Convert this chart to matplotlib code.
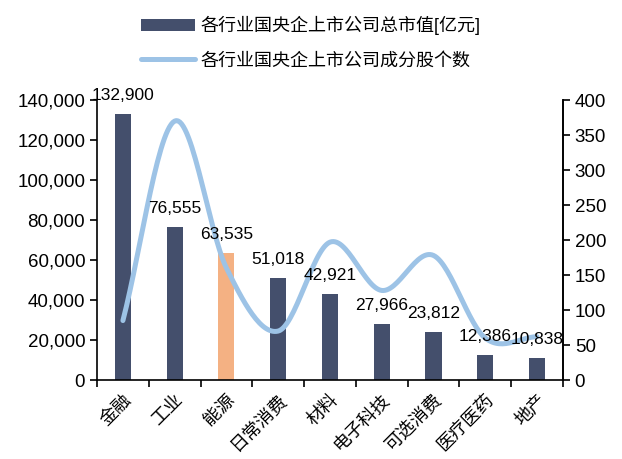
import numpy as np
import matplotlib
matplotlib.use("Agg")
import matplotlib.pyplot as plt
from matplotlib.ticker import FuncFormatter

plt.rcParams['font.family'] = ['Liberation Sans', 'Noto Sans CJK SC', 'DejaVu Sans']

categories = ['金融', '工业', '能源', '日常消费', '材料', '电子科技', '可选消费', '医疗医药', '地产']
market_cap = [132900, 76555, 63535, 51018, 42921, 27966, 23812, 12386, 10838]
n_stocks = [85, 370, 160, 70, 197, 128, 178, 60, 62]
bar_label = '各行业国央企上市公司总市值[亿元]'
line_label = '各行业国央企上市公司成分股个数'

navy = '#444F6C'
orange = '#F4B183'
light_blue = '#9DC3E6'


def smooth(x, y, steps=30):
    # catmull-rom style smoothing, like Excel's smoothed line
    x = np.asarray(x, float)
    y = np.asarray(y, float)
    px = np.concatenate([[2 * x[0] - x[1]], x, [2 * x[-1] - x[-2]]])
    py = np.concatenate([[2 * y[0] - y[1]], y, [2 * y[-1] - y[-2]]])
    xs, ys = [], []
    for i in range(1, len(px) - 2):
        t = np.linspace(0, 1, steps, endpoint=False)
        for p, out in ((px, xs), (py, ys)):
            p0, p1, p2, p3 = p[i - 1], p[i], p[i + 1], p[i + 2]
            out.extend(0.5 * (2 * p1 + (-p0 + p2) * t
                              + (2 * p0 - 5 * p1 + 4 * p2 - p3) * t ** 2
                              + (-p0 + 3 * p1 - 3 * p2 + p3) * t ** 3))
    xs.append(x[-1])
    ys.append(y[-1])
    return np.array(xs), np.array(ys)


fig = plt.figure(figsize=(6.22, 4.59), dpi=100)
ax = fig.add_axes([0.156, 0.172, 0.749, 0.61])
ax2 = ax.twinx()

pos = np.arange(len(categories))
colors = [navy] * len(categories)
colors[2] = orange
bars = ax.bar(pos, market_cap, width=0.31, color=colors, label=bar_label, zorder=2)

sx, sy = smooth(pos, n_stocks)
line, = ax2.plot(sx, sy, color=light_blue, lw=3.6, solid_capstyle='round', label=line_label)

# value labels go on ax2 so they sit above the line
for p, v in zip(pos, market_cap):
    ax2.text(p, v + 5500, f'{v:,}', ha='center', va='bottom', fontsize=12.5,
             transform=ax.transData, zorder=5, clip_on=False)

ax.set_xlim(-0.5, len(categories) - 0.5)
ax.set_ylim(0, 140000)
ax.set_yticks(np.arange(0, 140001, 20000))
ax.yaxis.set_major_formatter(FuncFormatter(lambda v, _: f'{int(v):,}'))
ax2.set_ylim(0, 400)
ax2.set_yticks(np.arange(0, 401, 50))

ax.set_xticks(pos)
ax.set_xticklabels(categories, rotation=45, ha='right', rotation_mode='anchor', fontsize=13)
ax.set_xticks(np.arange(-0.5, len(categories)), minor=True)
ax.tick_params(axis='x', which='major', length=0, pad=8)
ax.tick_params(axis='x', which='minor', length=5, width=1.2, direction='out')
ax.tick_params(axis='y', labelsize=13.5, length=5, width=1.2)
ax2.tick_params(axis='y', labelsize=13.5, length=5, width=1.2)

for a in (ax, ax2):
    a.spines['top'].set_visible(False)
    for s in ('left', 'right', 'bottom'):
        a.spines[s].set_linewidth(1.2)
ax2.spines['left'].set_visible(False)
ax2.spines['bottom'].set_visible(False)

fig.legend([bars, line], [bar_label, line_label], loc='upper center',
           bbox_to_anchor=(0.5, 1.0), ncol=1, frameon=False, fontsize=13,
           handlelength=3.0, handletextpad=0.3, labelspacing=0.95)

fig.savefig('out.png', dpi=100)
